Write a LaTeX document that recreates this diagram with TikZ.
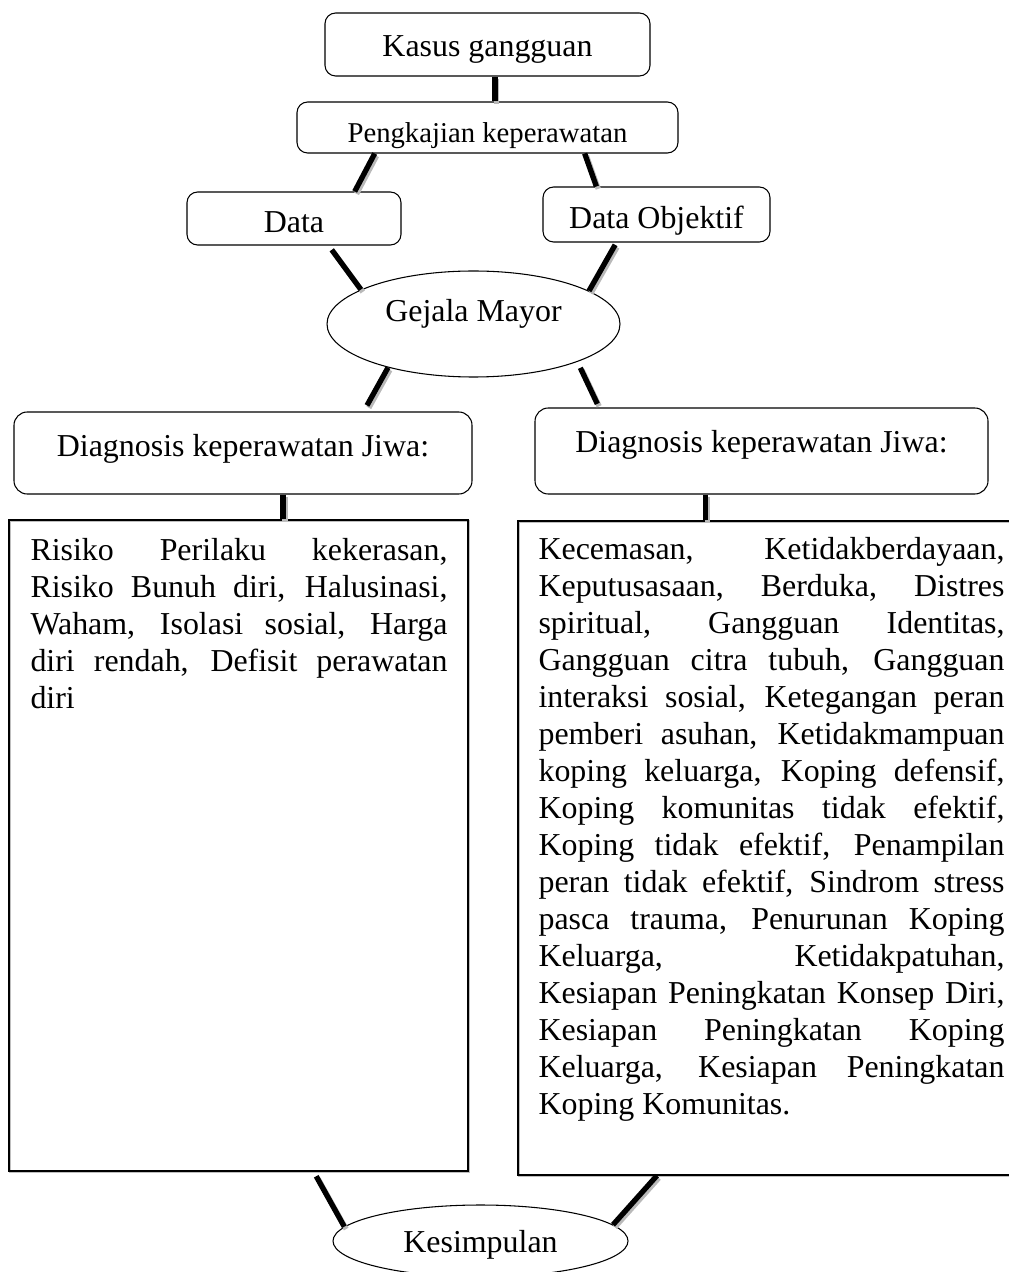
\documentclass[tikz,border=0pt]{standalone}
\usepackage{fontspec}
\setmainfont{Liberation Serif}
\usetikzlibrary{shapes.geometric}
\newdimen\px \px=0.376pt % one pixel of the page
% the font's own stretchable word gaps
\newcommand{\wordgaps}{\spaceskip=0pt\relax\xspaceskip=0pt\relax}
% one justified line of a list
\newcommand{\jline}[1]{\makebox[\linewidth][s]{\wordgaps\strut #1}}

\begin{document}
\begin{tikzpicture}[x=0.376pt, y=-0.376pt,
  box/.style={draw, rounded corners=4pt, inner sep=0pt, anchor=base, font=\fontsize{12}{13.8}\selectfont},
  oval/.style={draw, ellipse, inner sep=0pt, font=\fontsize{12}{13.8}\selectfont},
  frame/.style={draw, line width=0.6pt, inner sep=0pt, anchor=north west,
    preaction={draw=gray!50, line width=0.6pt, transform canvas={xshift=0.5pt, yshift=-0.5pt}}},
  para/.style={inner sep=0pt, anchor=north west, font=\fontsize{12}{13.9}\selectfont},
  link/.style={line width=2pt,
    preaction={draw=gray!55, line width=2pt, transform canvas={xshift=0.7pt, yshift=-0.9pt}}}]
\useasboundingbox (0,0) rectangle (1009,1272);

% Top part
\node[box, minimum width=325\px, text height=44\px, text depth=19\px] (kasus) at (487.5,57) {Kasus gangguan};
\node[box, minimum width=381\px, text height=41\px, text depth=10\px, font=\fontsize{10.8}{13}\selectfont] (pk) at (487.5,143) {Pengkajian keperawatan};
\node[box, minimum width=214\px, text height=41\px, text depth=12\px] (data) at (294,233) {Data};
\node[box, minimum width=227\px, text height=42\px, text depth=13\px] (dobj) at (656.5,229) {Data Objektif};
\node[oval, minimum width=293\px, minimum height=106\px, text height=12\px, text depth=16\px] (gejala) at (473.5,324) {Gejala Mayor};

% Diagnosis boxes
\node[box, rounded corners=5pt, minimum width=458\px, text height=45\px, text depth=37\px] (diagl) at (243,457) {Diagnosis keperawatan Jiwa:};
\node[box, rounded corners=5pt, minimum width=453\px, text height=45\px, text depth=41\px] (diagr) at (761.5,453) {Diagnosis keperawatan Jiwa:};

% Lists
\node[frame, minimum width=459\px, minimum height=651\px] (boxl) at (8,519) {};
\node[frame, minimum width=504\px, minimum height=654\px] (boxr) at (517,520) {};
\node[para, text width=417\px] (txtl) at (30,534.3) {\wordgaps
  \jline{Risiko Perilaku kekerasan,}\\
  \jline{Risiko Bunuh diri, Halusinasi,}\\
  \jline{Waham, Isolasi sosial, Harga}\\
  \jline{diri rendah, Defisit perawatan}\\
  \strut diri};
\node[para, text width=466\px] (txtr) at (538,533.3) {\wordgaps
  \jline{Kecemasan, Ketidakberdayaan,}\\
  \jline{Keputusasaan, Berduka, Distres}\\
  \jline{spiritual, Gangguan Identitas,}\\
  \jline{Gangguan citra tubuh, Gangguan}\\
  \jline{interaksi sosial, Ketegangan peran}\\
  \jline{pemberi asuhan, Ketidakmampuan}\\
  \jline{koping keluarga, Koping defensif,}\\
  \jline{Koping komunitas tidak efektif,}\\
  \jline{Koping tidak efektif, Penampilan}\\
  \jline{peran tidak efektif, Sindrom stress}\\
  \jline{pasca trauma, Penurunan Koping}\\
  \jline{Keluarga, Ketidakpatuhan,}\\
  \jline{Kesiapan Peningkatan Konsep Diri,}\\
  \jline{Kesiapan Peningkatan Koping}\\
  \jline{Keluarga, Kesiapan Peningkatan}\\
  \strut Koping Komunitas.};

\node[oval, minimum width=295\px, minimum height=72\px, text height=30\px, text depth=8\px] (kes) at (480.5,1241) {Kesimpulan};

% Connectors
\draw[link] (kasus.-77) -- (kasus.-77 |- pk.north);
\draw[link] (pk.193) -- (data.24);
\draw[link] (pk.-15) -- (dobj.155);
\draw[link, shorten <=2pt] (data.-38) -- (gejala.163);
\draw[link, shorten <=1pt] (dobj.-145) -- (gejala.16);
\draw[link, shorten >=2.6pt] (gejala.207) -- (diagl.19);
\draw[link, shorten <=2.5pt, shorten >=1.5pt] (gejala.-20) -- (diagr.165);
\draw[link] (diagl.-46) -- (diagl.-46 |- boxl.north);
\draw[link] (diagr.-142) -- (diagr.-142 |- boxr.north);
\draw[link, shorten <=2pt] (boxl.-77) -- (kes.174);
\draw[link] (boxr.-109) -- (kes.7);
\end{tikzpicture}
\end{document}
